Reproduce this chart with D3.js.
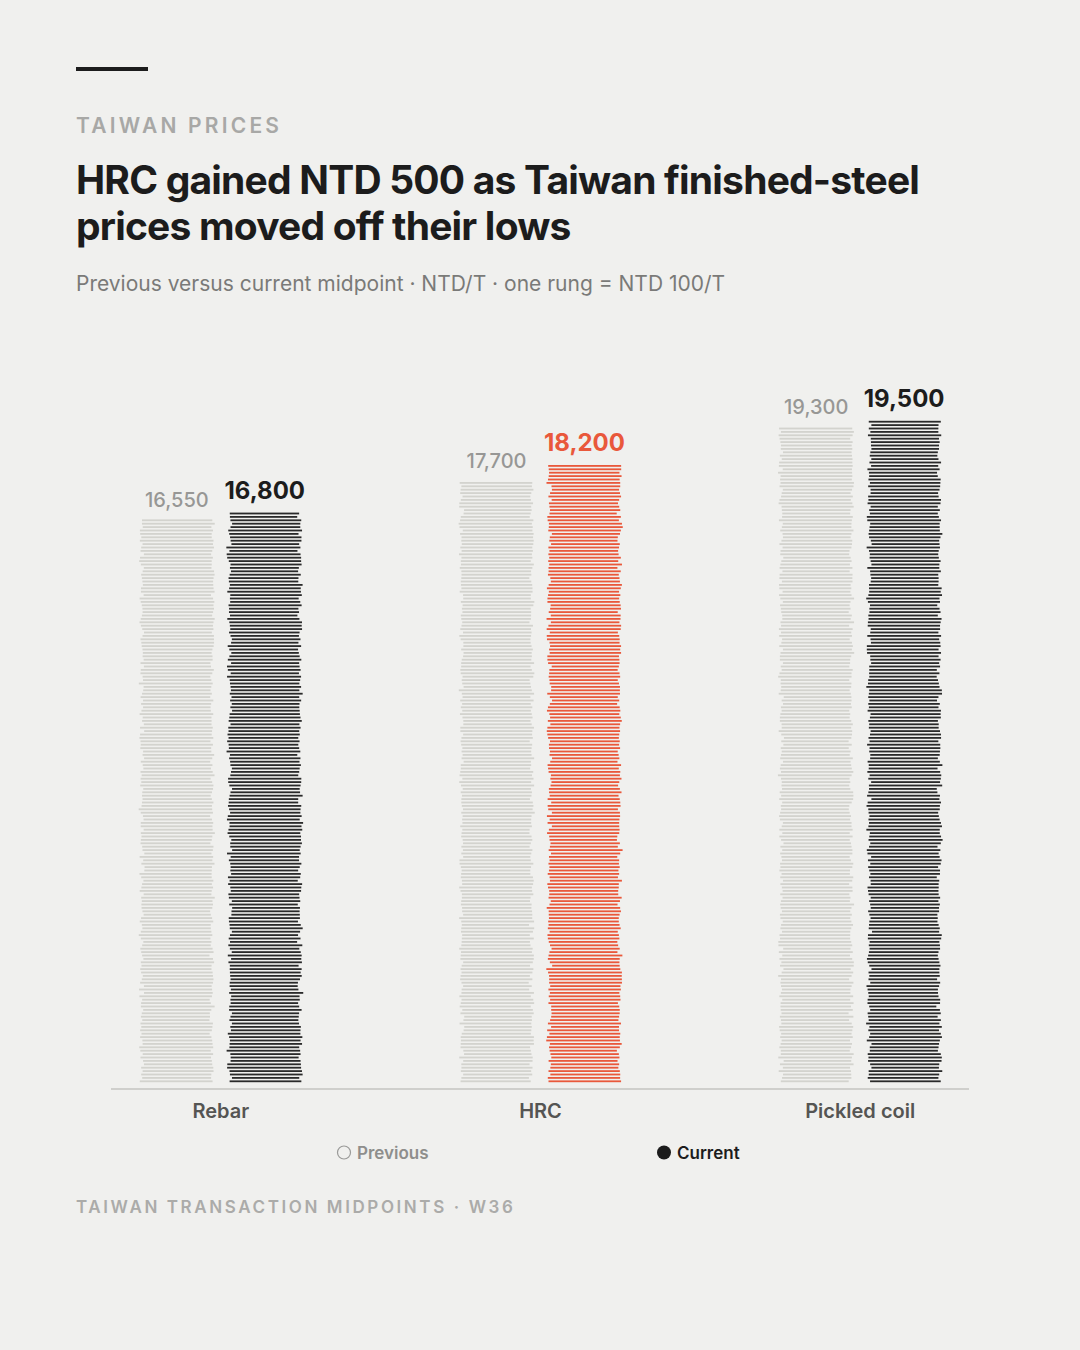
<!DOCTYPE html>
<html>
<head>
<meta charset="utf-8">
<script src="https://cdn.jsdelivr.net/npm/d3@7"></script>
<style>
  html, body { margin: 0; padding: 0; background: #f0f0ee; }
  svg { display: block; }
</style>
</head>
<body>
<div id="chart"></div>
<script>
// data
const categories = ["Rebar", "HRC", "Pickled coil"];
const previous = [16550, 17700, 19300];
const current = [16800, 18200, 19500];
const highlight = "HRC";
const rungStep = 100; // one rung = NTD 100/T

const W = 1080, H = 1350;
const font = "Inter, 'Noto Sans', sans-serif";
const colBg = "#f0f0ee";
const colDark = "#1c1c1c";
const colPrev = "#d3d3ce";
const colAccent = "#e9583b";

const svg = d3.select("#chart").append("svg")
  .attr("width", W).attr("height", H)
  .style("background", colBg);

// header
svg.append("rect").attr("x", 76).attr("y", 67).attr("width", 72).attr("height", 4).attr("fill", colDark);

svg.append("text").attr("x", 76).attr("y", 133)
  .attr("font-family", font).attr("font-size", 21).attr("font-weight", 600)
  .attr("letter-spacing", 3.2).attr("fill", "#a8a8a6")
  .text("TAIWAN PRICES");

const title = svg.append("text").attr("font-family", font).attr("font-size", 39)
  .attr("font-weight", 700).attr("letter-spacing", -0.8).attr("fill", colDark);
title.append("tspan").attr("x", 76).attr("y", 194).text("HRC gained NTD 500 as Taiwan finished-steel");
title.append("tspan").attr("x", 76).attr("y", 240).text("prices moved off their lows");

svg.append("text").attr("x", 76).attr("y", 291)
  .attr("font-family", font).attr("font-size", 21).attr("fill", "#7a7a78")
  .text("Previous versus current midpoint · NTD/T · one rung = NTD 100/T");

// scales
const x0 = d3.scaleBand().domain(categories).range([61, 1020]).padding(0);
const x1 = d3.scaleBand().domain(["prev", "curr"]).range([-80, 80]).paddingInner(0.18);
const y = d3.scaleLinear().domain([0, 20000]).range([1083, 403]);

// small deterministic wobble for the rung ends (decoration only)
function wobble(i, k) {
  const s = Math.sin(i * 12.9898 + k * 78.233) * 43758.5453;
  return s - Math.floor(s);
}

const groups = svg.append("g").selectAll("g")
  .data(categories.map((c, i) => ({ cat: c, prev: previous[i], curr: current[i], i })))
  .join("g")
  .attr("transform", d => `translate(${x0(d.cat) + x0.bandwidth() / 2},0)`);

groups.each(function (d) {
  const g = d3.select(this);
  [["prev", d.prev], ["curr", d.curr]].forEach(([key, val], k) => {
    const n = Math.round(val / rungStep);
    const color = key === "prev" ? colPrev : (d.cat === highlight ? colAccent : "#2a2a2a");
    const bx = x1(key), bw = x1.bandwidth();
    const rungs = d3.range(n);
    g.append("g").selectAll("rect")
      .data(rungs)
      .join("rect")
      .attr("x", r => {
        const cut = wobble(r + d.i * 300, k * 7 + 1) * 7 - 2;
        const shift = (wobble(r + d.i * 300, k * 7 + 3) - 0.5) * 3;
        return bx + cut / 2 + shift;
      })
      .attr("width", r => bw - (wobble(r + d.i * 300, k * 7 + 1) * 7 - 2))
      .attr("y", r => y((r + 1) * rungStep) + 0.8)
      .attr("height", 1.8)
      .attr("fill", color);

    g.append("text")
      .attr("x", bx + bw / 2)
      .attr("y", y(val) - 13)
      .attr("text-anchor", "middle")
      .attr("font-family", font)
      .attr("font-size", key === "prev" ? 20 : 24)
      .attr("font-weight", key === "prev" ? 500 : 700)
      .attr("fill", key === "prev" ? "#979795" : (d.cat === highlight ? colAccent : colDark))
      .text(d3.format(",")(val));
  });
});

// baseline
svg.append("line").attr("x1", 111).attr("x2", 969).attr("y1", 1089).attr("y2", 1089)
  .attr("stroke", "#cfcfcc").attr("stroke-width", 2);

svg.append("g").selectAll("text")
  .data(categories)
  .join("text")
  .attr("x", d => x0(d) + x0.bandwidth() / 2)
  .attr("y", 1118)
  .attr("text-anchor", "middle")
  .attr("font-family", font).attr("font-size", 20).attr("font-weight", 600)
  .attr("fill", "#555553")
  .text(d => d);

// legend
const legend = svg.append("g").attr("font-family", font).attr("font-size", 17).attr("font-weight", 600);
legend.append("circle").attr("cx", 344).attr("cy", 1152.5).attr("r", 6.5)
  .attr("fill", "none").attr("stroke", "#9a9a98").attr("stroke-width", 1.2);
legend.append("text").attr("x", 357).attr("y", 1159).attr("fill", "#8e8e8c").text("Previous");
legend.append("circle").attr("cx", 664).attr("cy", 1152.5).attr("r", 7).attr("fill", colDark);
legend.append("text").attr("x", 677).attr("y", 1159).attr("fill", colDark).text("Current");

svg.append("text").attr("x", 76).attr("y", 1213)
  .attr("font-family", font).attr("font-size", 17).attr("font-weight", 600)
  .attr("letter-spacing", 2.6).attr("fill", "#ababa9")
  .text("TAIWAN TRANSACTION MIDPOINTS · W36");
</script>
</body>
</html>
